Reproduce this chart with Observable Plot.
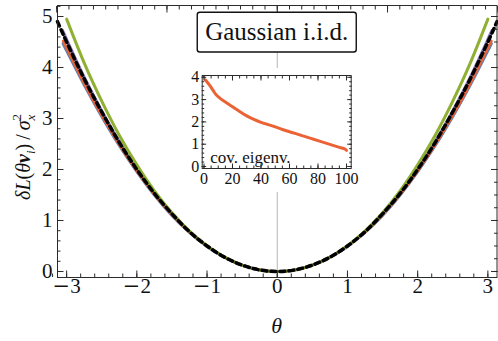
<!DOCTYPE html>
<html>
<head>
<meta charset="utf-8">
<script src="https://cdn.jsdelivr.net/npm/d3@7"></script>
<script src="https://cdn.jsdelivr.net/npm/@observablehq/plot@0.6"></script>
<style>
  body { margin: 0; background: white; }
  #wrap { position: relative; width: 498px; height: 341px; overflow: hidden; }
  #inset { position: absolute; left: 188px; top: 68px; }
  #wrap svg text { font-family: "Liberation Serif", "Times New Roman", serif; }
</style>
</head>
<body>
<div id="wrap"></div>
<script>
// ---------- data ----------
const thetaExact = [-3.13,-3,-2.75,-2.5,-2.25,-2,-1.75,-1.5,-1.25,-1,-0.75,-0.5,-0.25,0,0.25,0.5,0.75,1,1.25,1.5,1.75,2,2.25,2.5,2.75,3,3.13];
const lossExact  = [4.9,4.5,3.78,3.13,2.53,2.0,1.53,1.13,0.78,0.5,0.28,0.125,0.03,0,0.03,0.125,0.28,0.5,0.78,1.13,1.53,2.0,2.53,3.13,3.78,4.5,4.9];

const thetaGreen = [-3,-2.75,-2.5,-2.25,-2,-1.75,-1.5,-1.25,-1,-0.75,-0.5,-0.25,0,0.25,0.5,0.75,1,1.25,1.5,1.75,2,2.25,2.5,2.75,3];
const lossGreen  = [4.95,4.09,3.34,2.67,2.09,1.58,1.15,0.79,0.505,0.28,0.125,0.03,0,0.03,0.125,0.28,0.505,0.79,1.15,1.58,2.09,2.67,3.34,4.09,4.95];

const thetaPurple = [-3.06,-3,-2.75,-2.5,-2.25,-2,-1.75,-1.5,-1.25,-1,-0.75,-0.5,-0.25,0,0.25,0.5,0.75,1,1.25,1.5,1.75,2,2.25,2.5,2.75,3,3.06];
const lossPurple  = [4.73,4.55,3.81,3.15,2.55,2.01,1.54,1.13,0.78,0.5,0.28,0.125,0.03,0,0.03,0.125,0.28,0.5,0.78,1.13,1.54,2.01,2.55,3.15,3.81,4.55,4.73];

const thetaOrange = [-3.05,-3,-2.75,-2.5,-2.25,-2,-1.75,-1.5,-1.25,-1,-0.75,-0.5,-0.25,0,0.25,0.5,0.75,1,1.25,1.5,1.75,2,2.25,2.5,2.75,3,3.05];
const lossOrange  = [4.52,4.38,3.69,3.06,2.49,1.97,1.51,1.11,0.77,0.495,0.28,0.124,0.031,0,0.031,0.124,0.28,0.495,0.77,1.11,1.51,1.97,2.49,3.06,3.69,4.38,4.52];

const thetaBlue = [-3.05,-3,-2.75,-2.5,-2.25,-2,-1.75,-1.5,-1.25,-1,-0.75,-0.5,-0.25,0,0.25,0.5,0.75,1,1.25,1.5,1.75,2,2.25,2.5,2.75,3,3.05];
const lossBlue  = [4.47,4.33,3.66,3.04,2.47,1.96,1.50,1.10,0.765,0.49,0.277,0.123,0.031,0,0.031,0.123,0.277,0.49,0.765,1.10,1.50,1.96,2.47,3.04,3.66,4.33,4.47];

const eigIndex = [1,3,5,7,9,12,15,20,25,30,35,40,45,50,55,60,65,70,75,80,85,90,95,99,100];
const eigValue = [3.88,3.72,3.55,3.35,3.18,3.02,2.89,2.68,2.47,2.27,2.11,1.98,1.88,1.78,1.66,1.56,1.46,1.36,1.26,1.16,1.06,0.96,0.86,0.78,0.72];

const xTickLabels = [-3,-2,-1,0,1,2,3];
const yTickLabels = [0,1,2,3,4,5];
const insetXTickLabels = [0,20,40,60,80,100];
const insetYTickLabels = [0,1,2,3,4];
const boxLabel = "Gaussian i.i.d.";
const insetLabel = "cov. eigenv.";

// ---------- helpers ----------
const series = (t, v) => t.map((x, i) => ({x, y: v[i]}));
const fmt = d => d < 0 ? "\u2212" + (-d) : String(d);
const FONT = "Liberation Serif, Times New Roman, serif";
const ink = "#2b2b2b";
const none = () => "";

const minorX = d3.range(-3.2, 3.21, 0.2).map(d => +d.toFixed(2));
const topMinor = d3.range(-18, 19).map(k => k * Math.PI / 18);
const topMajor = [-Math.PI, -Math.PI/2, 0, Math.PI/2, Math.PI];
const minorY = d3.range(0, 5.21, 0.2).map(d => +d.toFixed(2));
const rightMinor = d3.range(0, 5.21, 0.25);

const tX = (anchor, ticks, size) => Plot.axisX({anchor, ticks, tickSize: size, tickFormat: none, label: null, stroke: ink});
const tY = (anchor, ticks, size) => Plot.axisY({anchor, ticks, tickSize: size, tickFormat: none, label: null, stroke: ink});

const main = Plot.plot({
  width: 498, height: 341,
  marginLeft: 57, marginRight: 1.5, marginTop: 5, marginBottom: 64,
  x: {domain: [-3.13, 3.13], axis: null},
  y: {domain: [-0.118, 5.216], axis: null},
  style: {fontFamily: FONT, fontSize: "21px", background: "white", color: ink},
  marks: [
    Plot.ruleX([0], {stroke: "#b5b5b5", strokeWidth: 1}),
    Plot.line(series(thetaBlue, lossBlue), {x: "x", y: "y", stroke: "#5E81B5", strokeWidth: 3, curve: "natural"}),
    Plot.line(series(thetaPurple, lossPurple), {x: "x", y: "y", stroke: "#8778B3", strokeWidth: 3, curve: "natural"}),
    Plot.line(series(thetaOrange, lossOrange), {x: "x", y: "y", stroke: "#EB6235", strokeWidth: 2.6, curve: "natural"}),
    Plot.line(series(thetaGreen, lossGreen), {x: "x", y: "y", stroke: "#8FB032", strokeWidth: 3, curve: "natural"}),
    Plot.line(series(thetaExact, lossExact), {x: "x", y: "y", stroke: "#000", strokeWidth: 3.5, strokeDasharray: "5,4", curve: "natural"}),
    Plot.frame({stroke: ink, strokeWidth: 1}),
    tX("bottom", minorX, -3.5),
    tX("bottom", xTickLabels, -6.5),
    tX("top", topMinor, -3.5),
    tX("top", topMajor, -6.5),
    tY("left", minorY, -3.5),
    tY("left", yTickLabels, -6.5),
    tY("right", rightMinor, -3.5),
    tY("right", yTickLabels, -6.5),
    Plot.axisX({anchor: "bottom", ticks: xTickLabels, tickFormat: fmt, tickSize: 0, tickPadding: 1, fontSize: 21, fontFamily: FONT, label: null, fill: "#111"}),
    Plot.axisY({anchor: "left", ticks: yTickLabels, tickFormat: fmt, tickSize: 0, tickPadding: 5, fontSize: 21, fontFamily: FONT, label: null, fill: "#111"})
  ]
});

const insetPlot = Plot.plot({
  width: 170, height: 124,
  marginLeft: 13.7, marginRight: 7.3, marginTop: 7, marginBottom: 24,
  x: {domain: [-1.26, 103.3], axis: null},
  y: {domain: [-0.09, 4.08], axis: null},
  style: {fontFamily: FONT, fontSize: "16px", background: "white", color: ink, overflow: "visible"},
  marks: [
    Plot.line(series(eigIndex, eigValue), {x: "x", y: "y", stroke: "#EB6235", strokeWidth: 3, curve: "natural"}),
    Plot.text([insetLabel], {frameAnchor: "bottom-left", text: d => d, dx: 8, dy: -6, fontSize: 17, fontFamily: FONT, fill: "#111"}),
    Plot.frame({stroke: ink, strokeWidth: 1}),
    tX("bottom", d3.range(0, 101, 5), -2.5),
    tX("bottom", insetXTickLabels, -4.5),
    tX("top", d3.range(0, 101, 5), -2.5),
    tX("top", insetXTickLabels, -4.5),
    tY("left", d3.range(0, 4.01, 0.2), -2.5),
    tY("left", insetYTickLabels, -4.5),
    tY("right", d3.range(0, 4.01, 0.2), -2.5),
    tY("right", insetYTickLabels, -4.5),
    Plot.axisX({anchor: "bottom", ticks: insetXTickLabels, tickFormat: d => String(d), tickSize: 0, tickPadding: 4, fontSize: 16, fontFamily: FONT, label: null, fill: "#111"}),
    Plot.axisY({anchor: "left", ticks: insetYTickLabels, tickFormat: d => String(d), tickSize: 0, tickPadding: 3, fontSize: 16, fontFamily: FONT, label: null, fill: "#111"})
  ]
});
insetPlot.id = "inset";

const wrap = document.getElementById("wrap");
wrap.appendChild(main);
wrap.appendChild(insetPlot);

// longer minus sign in tick labels, like the original
d3.select(main).selectAll("text").each(function() {
  const t = this.textContent;
  if (t.startsWith("\u2212")) {
    const s = d3.select(this);
    s.text(null);
    s.append("tspan").attr("font-family", "DejaVu Serif").text("\u2212");
    s.append("tspan").text(t.slice(1));
  }
});

const svg = d3.select(main);
const sx = main.scale("x");

// boxed label
const g = svg.append("g");
g.append("rect")
  .attr("x", sx.apply(0) - 79.5).attr("y", 12.3)
  .attr("width", 159).attr("height", 39.7)
  .attr("rx", 2.5)
  .attr("fill", "white").attr("stroke", "#111").attr("stroke-width", 1.4);
g.append("text")
  .attr("x", sx.apply(0)).attr("y", 40)
  .attr("text-anchor", "middle")
  .attr("font-family", FONT).attr("font-size", 25).attr("fill", "#111")
  .text(boxLabel);

// x label
svg.append("text")
  .attr("x", sx.apply(0)).attr("y", 333)
  .attr("text-anchor", "middle")
  .attr("font-family", FONT).attr("font-size", 22).attr("font-style", "italic").attr("fill", "#111")
  .text("\u03b8");

// y label  δL(θ v_i) / σ_x^2
const yl = svg.append("text")
  .attr("transform", "translate(30,157) rotate(-90)")
  .attr("text-anchor", "middle")
  .attr("font-family", FONT).attr("font-size", 20).attr("fill", "#111");
yl.append("tspan").attr("font-style", "italic").text("\u03b4L");
yl.append("tspan").text("(");
yl.append("tspan").attr("font-style", "italic").text("\u03b8");
yl.append("tspan").attr("font-style", "italic").attr("font-weight", "bold").text("v");
yl.append("tspan").attr("font-style", "italic").attr("font-size", 13).attr("dy", 5).text("i");
yl.append("tspan").attr("dy", -5).text(")\u2009/\u2009");
yl.append("tspan").attr("font-style", "italic").text("\u03c3");
yl.append("tspan").attr("font-style", "italic").attr("font-size", 13).attr("dy", 5).text("x");
yl.append("tspan").attr("font-size", 13).attr("dx", -6).attr("dy", -14).text("2");
</script>
</body>
</html>
